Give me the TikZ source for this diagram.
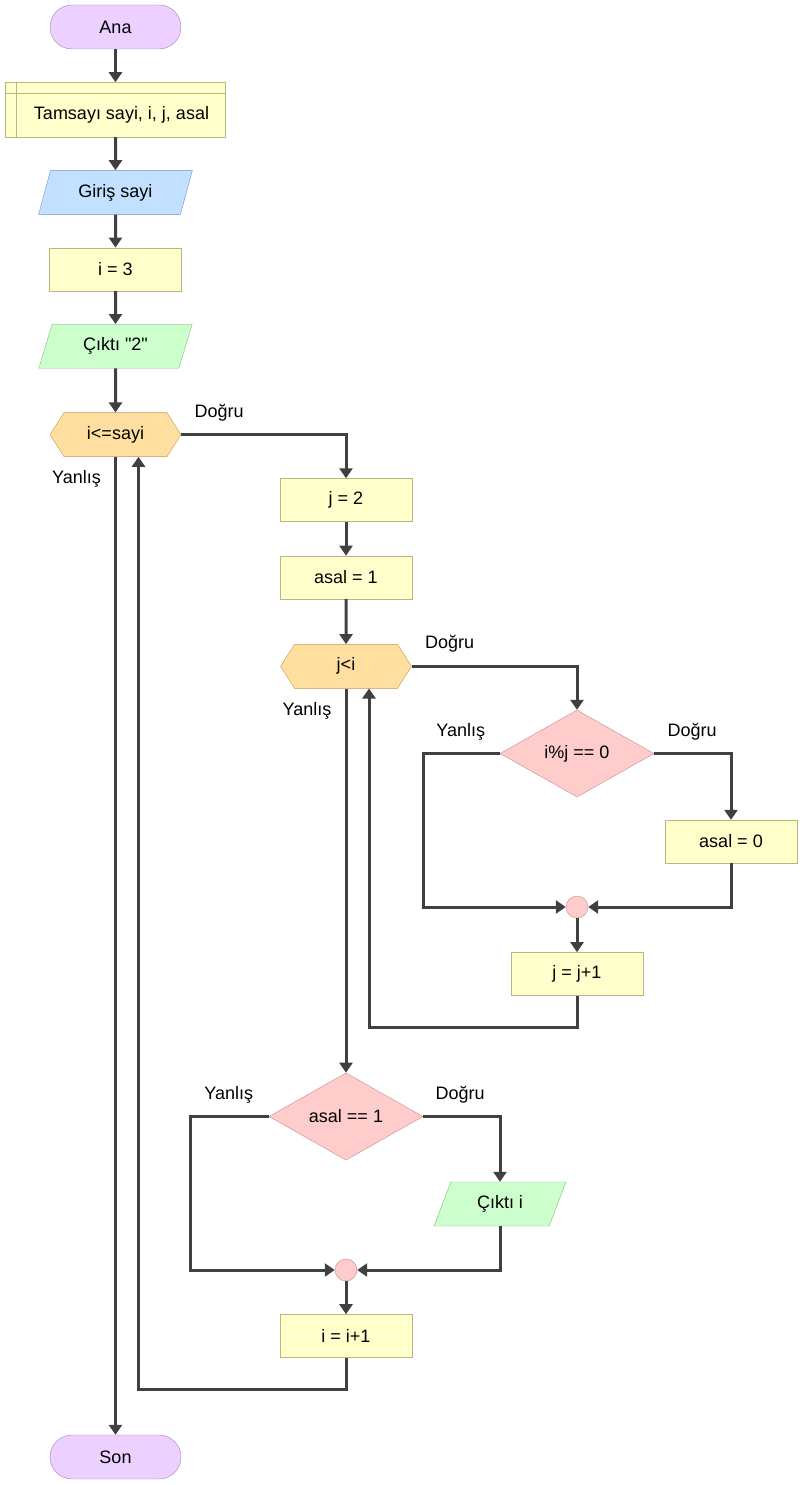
\documentclass[tikz,border=0pt]{standalone}
\usepackage{fontspec}
\setmainfont{Liberation Sans}[Ligatures=TeXOff]
\usepackage{xcolor}
\definecolor{fcline}{HTML}{404040}
\definecolor{fcterm}{HTML}{ECD0FF}
\definecolor{fctermb}{HTML}{A383BC}
\definecolor{fcproc}{HTML}{FFFFCC}
\definecolor{fcprocb}{HTML}{B8B87C}
\definecolor{fcin}{HTML}{C2E0FF}
\definecolor{fcinb}{HTML}{6D98C8}
\definecolor{fcout}{HTML}{CCFFCC}
\definecolor{fcoutb}{HTML}{82B882}
\definecolor{fcloop}{HTML}{FFDF9F}
\definecolor{fcloopb}{HTML}{C09A50}
\definecolor{fcif}{HTML}{FFCCCC}
\definecolor{fcifb}{HTML}{C48E8E}
\usetikzlibrary{arrows.meta,positioning,shapes.geometric,shapes.symbols,calc}
\tikzset{
  fcterm/.style={draw=fctermb,fill=fcterm,rounded corners=22pt,minimum width=131pt,minimum height=44pt,font=\fontsize{18}{21}\selectfont},
  fcproc/.style={draw=fcprocb,fill=fcproc,minimum width=132pt,minimum height=43pt,font=\fontsize{18}{21}\selectfont},
  fcio/.style={trapezium,trapezium left angle=68,trapezium right angle=112,trapezium stretches=true,minimum width=154pt,minimum height=44pt,inner sep=0pt,font=\fontsize{18}{21}\selectfont},
  fcloop/.style={signal,signal to=west and east,signal pointer angle=115,draw=fcloopb,fill=fcloop,minimum width=131pt,minimum height=44pt,inner sep=0pt,font=\fontsize{18}{21}\selectfont},
  fcif/.style={diamond,draw=fcifb,fill=fcif,minimum width=154pt,minimum height=87pt,inner sep=0pt,font=\fontsize{18}{21}\selectfont},
  fcjoin/.style={circle,draw=fcifb,fill=fcif,minimum size=22pt,inner sep=0pt},
  fcflow/.style={-{Triangle[length=10pt,width=13pt]},line width=3pt,draw=fcline},
  fclabel/.style={font=\fontsize{18}{21}\selectfont,inner sep=0pt},
}
\begin{document}
\begin{tikzpicture}[x=1pt,y=-1pt,node distance=33pt]
\useasboundingbox (0,0) rectangle (803,1485);
% main column
\node[fcterm] (ana) at (115.5,27) {Ana};
\node[fcproc,minimum width=220pt,minimum height=44pt,outer sep=0pt,below=44pt of ana] (decl) {\hspace*{12pt}Tamsayı sayi, i, j, asal};
\draw[draw=fcprocb,fill=fcproc] (decl.north west) rectangle ([yshift=11pt]decl.north east);
\draw[draw=fcprocb] ([xshift=11pt,yshift=11pt]decl.north west) -- ([xshift=11pt]decl.south west);
\node[fcio,draw=fcinb,fill=fcin,below=of decl] (inp) {Giriş sayi};
\node[fcproc,below=of inp] (i3) {i = 3};
\node[fcio,draw=fcoutb,fill=fcout,below=of i3] (out2) {Çıktı "2"};
\node[fcloop,below=44pt of out2] (wi) {i<=sayi};
\node[fcterm] (son) at (115.5,1457) {Son};
\draw[fcflow] (ana) -- ([yshift=11pt]decl.north);
\draw[fcflow] (decl) -- (inp);
\draw[fcflow] (inp) -- (i3);
\draw[fcflow] (i3) -- (out2);
\draw[fcflow] (out2) -- (wi);
\draw[fcflow] (wi.south) -- (son.north);
% outer loop body
\node[fcproc] (j2) at (346,500) {j = 2};
\node[fcproc,below=34pt of j2] (asal1) {asal = 1};
\node[fcloop,below=45pt of asal1] (wj) {j<i};
\draw[fcflow] (wi.east) -| (j2.north);
\draw[fcflow] (j2) -- (asal1);
\draw[fcflow] (asal1) -- (wj);
% inner loop body
\node[fcif] (mod) at (577,753.5) {i\%j == 0};
\node[fcproc] (asal0) at (731,841.5) {asal = 0};
\node[fcjoin] (m1) at (577,907) {};
\node[fcproc,below=34pt of m1] (jinc) {j = j+1};
\draw[fcflow] (wj.east) -| (mod.north);
\draw[fcflow] (mod.east) -| (asal0.north);
\draw[fcflow] (mod.west) -- ++(-76,0) |- (m1.west);
\draw[fcflow] (asal0.south) |- (m1.east);
\draw[fcflow] (m1) -- (jinc);
\draw[fcflow] (jinc.south) -- ++(0,32) -| ([xshift=23pt]wj.south);
% prime test
\node[fcif] (prm) at (346,1116.5) {asal == 1};
\node[fcio,draw=fcoutb,fill=fcout,minimum width=132pt,trapezium left angle=65,trapezium right angle=115] (outi) at (500,1204) {Çıktı i};
\node[fcjoin] (m2) at (346,1270) {};
\node[fcproc,below=33pt of m2] (iinc) {i = i+1};
\draw[fcflow] (wj.south) -- (prm.north);
\draw[fcflow] (prm.east) -| (outi.north);
\draw[fcflow] (prm.west) -- ++(-78,0) |- (m2.west);
\draw[fcflow] (outi.south) |- (m2.east);
\draw[fcflow] (m2) -- (iinc);
\draw[fcflow] (iinc.south) -- ++(0,32) -| ([xshift=23pt]wi.south);
% branch labels
\node[fclabel] (l1) at ($(wi.east)+(38,-22)$) {Doğru};
\node[fclabel] (l2) at ($(wi.south)+(-39,22)$) {Yanlış};
\node[fclabel] (l3) at ($(wj.east)+(38,-23)$) {Doğru};
\node[fclabel] (l4) at ($(wj.south)+(-39,22)$) {Yanlış};
\node[fclabel] (l5) at ($(mod.west)+(-39,-22)$) {Yanlış};
\node[fclabel] (l6) at ($(mod.east)+(38,-22)$) {Doğru};
\node[fclabel] (l7) at ($(prm.west)+(-40,-22)$) {Yanlış};
\node[fclabel] (l8) at ($(prm.east)+(37,-22)$) {Doğru};
\end{tikzpicture}
\end{document}
